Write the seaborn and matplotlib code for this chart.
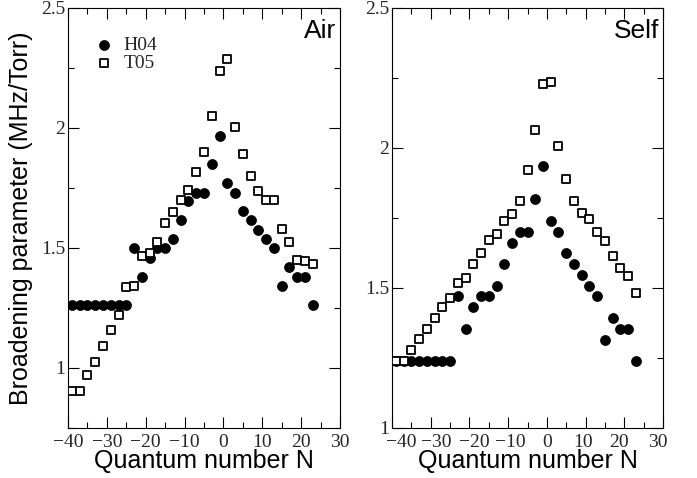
import matplotlib
matplotlib.use("Agg")
import matplotlib.pyplot as plt
import matplotlib.transforms as mtransforms
import seaborn as sns
import pandas as pd
from matplotlib.ticker import MultipleLocator, FormatStrFormatter

# ---- data ----
N = [-39, -37, -35, -33, -31, -29, -27, -25, -23, -21, -19, -17, -15, -13, -11, -9,
     -7, -5, -3, -1, 1, 3, 5, 7, 9, 11, 13, 15, 17, 19, 21, 23]

air_h04 = [1.261, 1.261, 1.261, 1.261, 1.261, 1.261, 1.261, 1.261, 1.500, 1.381, 1.457,
           1.500, 1.500, 1.539, 1.618, 1.694, 1.731, 1.731, 1.850, 1.968, 1.769, 1.731,
           1.655, 1.615, 1.576, 1.539, 1.500, 1.342, 1.421, 1.381, 1.381, 1.261]
air_t05 = [0.903, 0.903, 0.971, 1.025, 1.093, 1.160, 1.222, 1.336, 1.340, 1.468, 1.480,
           1.526, 1.603, 1.650, 1.698, 1.740, 1.818, 1.900, 2.049, 2.236, 2.289, 2.004,
           1.893, 1.799, 1.736, 1.698, 1.698, 1.581, 1.526, 1.451, 1.447, 1.433]
self_h04 = [1.238, 1.238, 1.238, 1.238, 1.238, 1.238, 1.238, 1.238, 1.470, 1.353, 1.431,
            1.472, 1.472, 1.506, 1.585, 1.662, 1.700, 1.700, 1.819, 1.934, 1.741, 1.700,
            1.626, 1.585, 1.546, 1.506, 1.470, 1.314, 1.393, 1.353, 1.353, 1.238]
self_t05 = [1.238, 1.238, 1.280, 1.319, 1.353, 1.393, 1.431, 1.463, 1.519, 1.537, 1.585,
            1.626, 1.672, 1.692, 1.740, 1.763, 1.811, 1.921, 2.066, 2.228, 2.235, 2.007,
            1.890, 1.811, 1.767, 1.748, 1.700, 1.667, 1.616, 1.573, 1.543, 1.482]

series_names = ["H04", "T05"]
panel_titles = ["Air", "Self"]
x_ticks = [-40, -30, -20, -10, 0, 10, 20, 30]
y_ticks = [1, 1.5, 2, 2.5]
xlabel = "Quantum number N"
ylabel = "Broadening parameter (MHz/Torr)"

# ---- style ----
sns.set_theme(style="ticks")
plt.rcParams["font.family"] = ["Liberation Sans", "DejaVu Sans"]

W, H = 697, 478
fig = plt.figure(figsize=(W / 100, H / 100), dpi=100)
ax_air = fig.add_axes([68 / W, (H - 428) / H, 272 / W, 420 / H])
ax_self = fig.add_axes([392 / W, (H - 428) / H, 271 / W, 420 / H])

serif = ["Liberation Serif", "DejaVu Serif"]

def draw(ax, h04, t05, title, ylim):
    df = pd.DataFrame({"N": N + N,
                       "val": list(h04) + list(t05),
                       "src": [series_names[0]] * len(N) + [series_names[1]] * len(N)})
    sns.scatterplot(data=df[df.src == "H04"], x="N", y="val", ax=ax, marker="o",
                    s=52, color="black", edgecolor="black", linewidth=0.5,
                    label="H04", zorder=3)
    sns.scatterplot(data=df[df.src == "T05"], x="N", y="val", ax=ax, marker="s",
                    s=38, facecolor="white", edgecolor="black", linewidth=1.3,
                    label="T05", zorder=4)
    ax.set_xlim(-40, 30)
    ax.set_ylim(*ylim)
    ax.set_xticks(x_ticks)
    ax.set_yticks(y_ticks)
    ax.xaxis.set_minor_locator(MultipleLocator(5))
    ax.yaxis.set_minor_locator(MultipleLocator(0.25))
    ax.yaxis.set_major_formatter(FormatStrFormatter("%g"))
    ax.tick_params(which="both", direction="in", top=True, right=True,
                   width=0.8, color="black")
    ax.tick_params(which="major", length=8, labelsize=14)
    ax.tick_params(axis="x", which="major", pad=4)
    ax.tick_params(axis="y", which="major", pad=2)
    ax.tick_params(which="minor", length=4)
    for lab in ax.get_xticklabels() + ax.get_yticklabels():
        lab.set_fontfamily(serif)
    for sp in ax.spines.values():
        sp.set_visible(True)
        sp.set_linewidth(0.8)
        sp.set_color("black")
    ax.set_xlabel(xlabel, fontsize=18, labelpad=-1, color="black")
    ax.set_ylabel("")
    ax.text(0.985, 0.975, title, transform=ax.transAxes, ha="right", va="top",
            fontsize=19, color="black")
    ax.grid(False)

draw(ax_air, air_h04, air_t05, panel_titles[0], (0.75, 2.5))
draw(ax_self, self_h04, self_t05, panel_titles[1], (1.0, 2.5))

# in the reference the right panel's x labels are slightly squeezed toward the centre
fig.canvas.draw()
shifts_px = [9.5, 6, 5, 2, 0, -3, -5, -5.5]
for lab, dx in zip(ax_self.get_xticklabels(), shifts_px):
    lab.set_transform(lab.get_transform() +
                      mtransforms.ScaledTranslation(dx / 100, 0, fig.dpi_scale_trans))

ax_air.set_ylabel(ylabel, fontsize=18, labelpad=6, color="black")

leg = ax_air.legend(loc="upper left", bbox_to_anchor=(0.06, 0.95), frameon=False,
                    prop={"family": serif, "size": 14}, handletextpad=0.4,
                    labelspacing=0.0, borderaxespad=0, handlelength=1.2)
ax_self.get_legend().remove()

fig.savefig("out.png", dpi=100, facecolor="white")
